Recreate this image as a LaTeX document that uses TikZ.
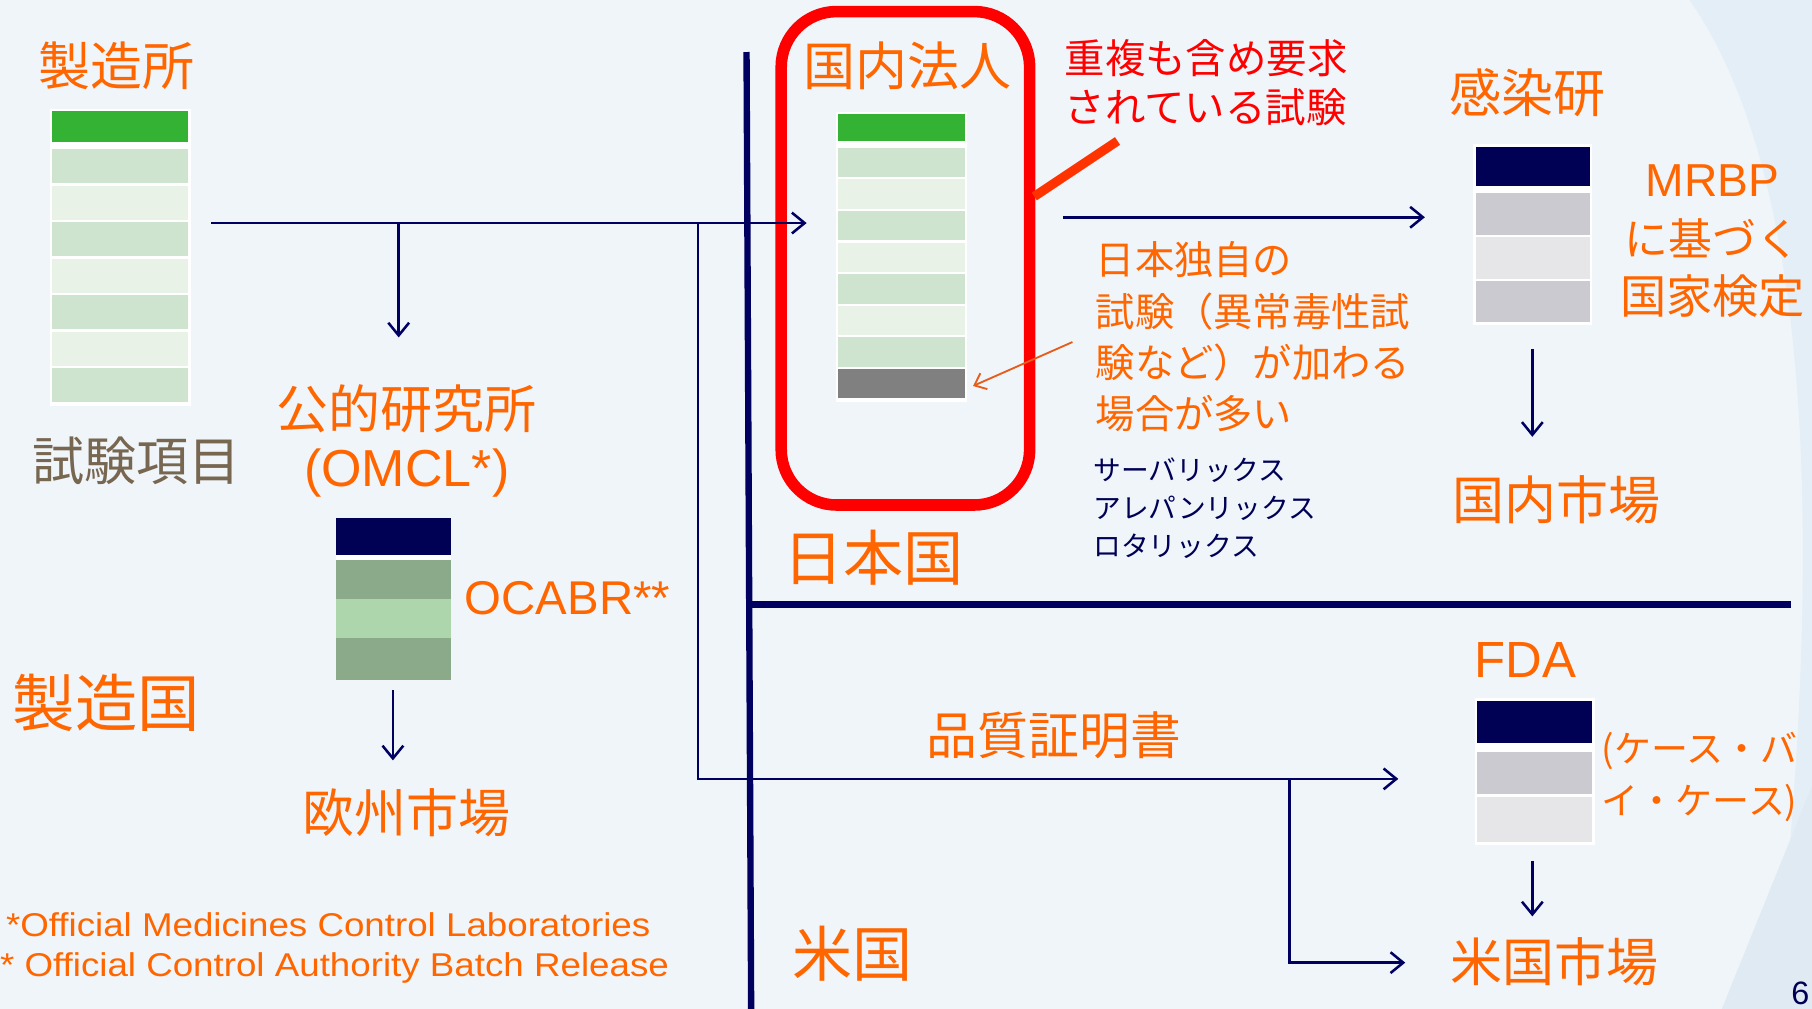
\documentclass[tikz,border=0pt]{standalone}
\usepackage{fontspec}
\newfontfamily\jp{Noto Sans CJK JP}
\newfontfamily\en{Liberation Sans}
\newfontfamily\enwide[FakeStretch=1.115]{Liberation Sans}
\usetikzlibrary{arrows.meta}
\definecolor{bg}{HTML}{F0F5FA}
\definecolor{swoosh}{HTML}{E4EEF6}
\definecolor{swooshb}{HTML}{DFEAF3}
\definecolor{org}{HTML}{FF6600}
\definecolor{nv}{HTML}{000060}
\definecolor{nvbox}{HTML}{000055}
\definecolor{grnA}{HTML}{33B233}
\definecolor{lgA}{HTML}{CFE4CE}
\definecolor{lgB}{HTML}{E8F2E6}
\definecolor{dgA}{HTML}{8BAA89}
\definecolor{dgB}{HTML}{ADD6AC}
\definecolor{gyA}{HTML}{CBCAD0}
\definecolor{gyB}{HTML}{E6E6E8}
\definecolor{gyC}{HTML}{808080}
\definecolor{callred}{HTML}{FF3300}
\definecolor{txtgray}{HTML}{776650}
\definecolor{smallarr}{HTML}{E65C1A}
\begin{document}
\begin{tikzpicture}[x=1pt,y=-1pt,
  cell/.style={draw=none,inner sep=0pt,outer sep=0pt},
  lbl/.style={text=org,inner sep=0pt,font=\jp\fontsize{45}{54}\selectfont},
  elbl/.style={text=org,inner sep=0pt,font=\en\fontsize{45}{54}\selectfont},
  arr/.style={draw=nv,line width=2.2pt,-{Straight Barb[length=11pt,width=18pt]}},
  ln/.style={draw=nv,line width=2.2pt},
  border/.style={draw=nv,line width=5.5pt}]
% background
\fill[bg] (0,0) rectangle (1568,873);
\useasboundingbox (0,0) rectangle (1568,873);
\fill[swoosh] (1462,0) .. controls (1560,140) and (1585,430) .. (1535,873) -- (1568,873) -- (1568,0) -- cycle;
\fill[swooshb] (1490,873) -- (1568,680) -- (1568,873) -- cycle;

% ---------- manufacturer stack ----------
\fill[white] (43,94) rectangle (165,351);
\node[cell,fill=grnA,minimum width=118pt,minimum height=27pt] (mfgtop) at (104,109.5) {};
\foreach \i/\c in {0/lgA,1/lgB,2/lgA,3/lgB,4/lgA,5/lgB,6/lgA}
  \node[cell,fill=\c,minimum width=118pt,minimum height=29.6pt] (mfg\i) at (104,{129+31.6*\i+14.8}) {};
\node[lbl] (mfg) at (101,57) {製造所};
\node[lbl,text=txtgray] (items) at (118,399) {試験項目};

% ---------- domestic (Japan) stack ----------
\fill[white] (723,97) rectangle (837,348);
\node[cell,fill=grnA,minimum width=110pt,minimum height=23pt] (domtop) at (780,110.5) {};
\foreach \i/\c in {0/lgA,1/lgB,2/lgA,3/lgB,4/lgA,5/lgB,6/lgA,7/gyC}
  \node[cell,fill=\c,minimum width=110pt,minimum height=25.5pt] (dom\i) at (780,{128+27.3*\i+12.75}) {};
\node[lbl] (domlbl) at (785,57) {国内法人};
\draw[red,line width=10pt,rounded corners=48pt] (676,10) rectangle (891,437);
\node[inner sep=0pt] (redbox) at (783.5,223.5) {};
\coordinate (callA) at (895,170);
\coordinate (callB) at (967,122);
\draw[callred,line width=8pt] (callA) -- (callB);
\node[text=red,inner sep=0pt,anchor=west,align=left,font=\jp\fontsize{35}{43}\selectfont] (dup) at (921,71.5) {重複も含め要求\\されている試験};

% ---------- OMCL ----------
\node[lbl] (omcl) at (352,354) {公的研究所};
\node[elbl] (omcl2) at (352,409) {(OMCL*)};
\node[cell,fill=nvbox,minimum width=99pt,minimum height=32pt] (ocnav) at (340.5,464) {};
\fill[white] (291,480) rectangle (390,485);
\node[cell,fill=dgA,minimum width=99pt,minimum height=33pt] (oc1) at (340.5,501.5) {};
\node[cell,fill=dgB,minimum width=99pt,minimum height=34pt] (oc2) at (340.5,535) {};
\node[cell,fill=dgA,minimum width=99pt,minimum height=36pt] (oc3) at (340.5,570) {};
\node[elbl,anchor=west,font=\en\fontsize{41}{50}\selectfont] (ocabr) at (402,518) {OCABR**};
\node[lbl] (eu) at (352,703) {欧州市場};
\node[lbl,font=\jp\fontsize{54}{62}\selectfont] (mfgc) at (92,608) {製造国};
\node[elbl,anchor=west,font=\enwide\fontsize{28.5}{34}\selectfont] (fn1) at (5,800) {*Official Medicines Control Laboratories};
\node[elbl,anchor=east,font=\enwide\fontsize{28.5}{34}\selectfont] (fn2) at (579,838) {* Official Control Authority Batch Release};

% ---------- Japan area ----------
\node[lbl,font=\jp\fontsize{52}{60}\selectfont] (jp) at (756,483) {日本国};
\node[text=org,inner sep=0pt,anchor=north west,align=left,font=\jp\fontsize{34}{44.3}\selectfont] (unique) at (948,209) {日本独自の\\試験（異常毒性試\\験など）が加わる\\場合が多い};
\node[text=nvbox,inner sep=0pt,anchor=north west,align=left,font=\jp\fontsize{24}{33}\selectfont] (prod) at (946,396) {サーバリックス\\アレパンリックス\\ロタリックス};
\node[lbl] (niid) at (1322,80) {感染研};
\fill[white] (1275,125) rectangle (1378,281);
\node[cell,fill=nvbox,minimum width=99pt,minimum height=34pt] (nnav) at (1326.5,144) {};
\node[cell,fill=gyA,minimum width=99pt,minimum height=36pt] (n1) at (1326.5,185) {};
\node[cell,fill=gyB,minimum width=99pt,minimum height=36pt] (n2) at (1326.5,223) {};
\node[cell,fill=gyA,minimum width=99pt,minimum height=36pt] (n3) at (1326.5,261) {};
\node[elbl,font=\en\fontsize{40}{48}\selectfont] (mrbp) at (1482,156) {MRBP};
\node[lbl,font=\jp\fontsize{38}{48}\selectfont] (mrbp2) at (1482,206) {に基づく};
\node[lbl,font=\jp\fontsize{40}{48}\selectfont] (mrbp3) at (1482,256) {国家検定};
\node[lbl] (jpmkt) at (1347,432) {国内市場};

% ---------- USA area ----------
\node[lbl,font=\jp\fontsize{52}{60}\selectfont] (us) at (738,825) {米国};
\node[lbl,font=\jp\fontsize{44}{54}\selectfont] (cert) at (912,636) {品質証明書};
\node[elbl,font=\en\fontsize{44}{54}\selectfont] (fda) at (1320,571) {FDA};
\fill[white] (1276,604) rectangle (1380,731);
\node[cell,fill=nvbox,minimum width=100pt,minimum height=36pt] (fnav) at (1328,625) {};
\node[cell,fill=gyA,minimum width=100pt,minimum height=36pt] (f1) at (1328,669) {};
\node[cell,fill=gyB,minimum width=100pt,minimum height=39pt] (f2) at (1328,709.5) {};
\node[text=org,inner sep=0pt,anchor=west,align=left,font=\jp\fontsize{32}{45}\selectfont] (cbc) at (1386,672.5) {(ケース・バ\\イ・ケース)};
\node[lbl] (usmkt) at (1345,832) {米国市場};
\node[inner sep=0pt,text=nvbox,font=\en\fontsize{28}{34}\selectfont] (pg) at (1558,860) {6};

% ---------- borders ----------
\coordinate (vT) at (646,45);
\coordinate (vB) at (650,873);
\draw[border] (vT) -- (vB);
\coordinate (hL) at (649,523);
\coordinate (hR) at (1550,523);
\draw[border,line width=6pt] (hL) -- (hR);

% ---------- connectors ----------
\coordinate (m1) at (183,193);
\coordinate (m2) at (698,193);
\coordinate (jO) at (345,193);
\coordinate (jOe) at (345,292);
\coordinate (jU) at (604,193);
\coordinate (jUc) at (604,674);
\coordinate (jUe) at (1210,674);
\coordinate (jM) at (1116,674);
\coordinate (jMc) at (1116,833);
\coordinate (jMe) at (1216,833);
\coordinate (dA) at (920,188);
\coordinate (dB) at (1233,188);
\coordinate (nA) at (1326,302);
\coordinate (nB) at (1326,378);
\coordinate (oA) at (340,597);
\coordinate (oB) at (340,658);
\coordinate (fA) at (1326,745);
\coordinate (fB) at (1326,793);
\coordinate (sA) at (928,296);
\coordinate (sB) at (842,334);

\draw[arr] (m1) -- (m2);
\draw[arr] (jO) -- (jOe);
\draw[arr] (jU) -- (jUc) -- (jUe);
\draw[arr] (jM) -- (jMc) -- (jMe);
\draw[arr] (dA) -- (dB);
\draw[arr] (nA) -- (nB);
\draw[arr] (oA) -- (oB);
\draw[arr] (fA) -- (fB);
\draw[smallarr,line width=1.6pt,-{Straight Barb[length=9pt,width=15pt]}] (sA) -- (sB);
\end{tikzpicture}
\end{document}
